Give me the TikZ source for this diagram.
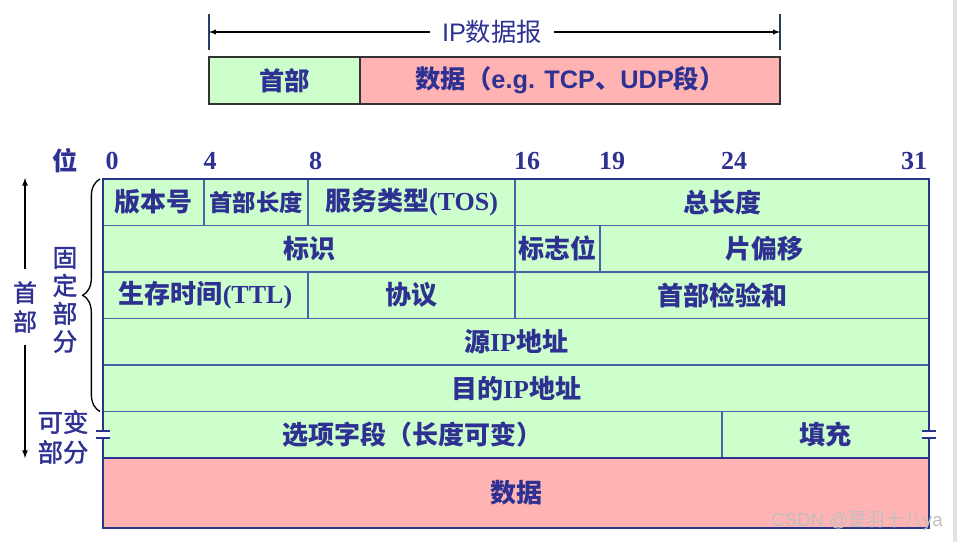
\documentclass[tikz,border=0pt]{standalone}
\usepackage{fontspec}
\setmainfont{Liberation Serif}
\newfontfamily\cjk{Noto Sans CJK SC}
\newfontfamily\cjkmid[FakeBold=1.6]{Noto Sans CJK SC}
\newfontfamily\arial{Liberation Sans}
\usepackage{tikz}
\usetikzlibrary{arrows, positioning, decorations.pathreplacing}

\definecolor{ink}{RGB}{46,49,146}
\definecolor{hdrgreen}{RGB}{204,255,204}
\definecolor{datapink}{RGB}{255,179,179}
\definecolor{gridblue}{RGB}{72,98,165}
\definecolor{edgeblue}{RGB}{42,52,140}

\newdimen\px \px=0.75pt
\newcommand{\zh}[1]{{\cjk #1}}

\begin{document}
\begin{tikzpicture}[x=\px, y=-\px,
        fld/.style={rectangle, draw=gridblue, line width=1.1pt, fill=hdrgreen, text=ink, inner sep=0pt, outer sep=0pt, minimum height=46.5\px, font=\bfseries\fontsize{19.5}{22}\selectfont},
        datafld/.style={fld, fill=datapink, minimum height=70\px},
        topbox/.style={rectangle, draw=black!80, line width=1pt, text=ink, inner sep=0pt, outer sep=0pt, minimum height=47\px, font=\bfseries\fontsize{19}{22}\selectfont},
        bitno/.style={anchor=base, text=ink, inner sep=0pt, font=\bfseries\fontsize{19.5}{22}\selectfont},
        side/.style={text=ink, align=center, inner sep=0pt},
        curly/.style={decorate, decoration={brace, amplitude=13pt}, black, line width=1pt},
        brk/.style={edgeblue, line width=1.5pt}]
        \useasboundingbox (0,0) rectangle (957,542);
        \fill[gray!22] (953,0) rectangle (957,542);

        % datagram overview
        \node[topbox, fill=hdrgreen, minimum width=151\px, anchor=north west] (iphdr) at (209,57) {\zh{首部}};
        \node[topbox, fill=datapink, minimum width=420\px, right=0pt of iphdr] (ipdata) {\zh{数据（}{\arial e.g. TCP}\zh{、}{\arial UDP}\zh{段）}};
        \draw[gridblue!60!black, line width=0.8pt] ([shift={(0,-7)}]iphdr.north west) -- ++(0,-36);
        \draw[gridblue!60!black, line width=0.8pt] ([shift={(0,-7)}]ipdata.north east) -- ++(0,-36);
        \node[text=ink, fill=white, inner xsep=9pt, inner ysep=2pt, font=\fontsize{19}{22}\selectfont] (iplbl) at (492,32) {{\arial IP}\zh{数据报}};
        \coordinate (ipl) at (209,32);
        \coordinate (ipr) at (780,32);
        \path[-latex] (iplbl) edge [line width=0.8pt] (ipl);
        \path[-latex] (iplbl) edge [line width=0.8pt] (ipr);

        % bit positions
        \node[side, font=\cjk\bfseries\fontsize{19}{22}\selectfont] (wei) at (65,161) {位};
        \foreach \b/\x in {0/112, 4/210, 8/315.5, 16/527, 19/612, 24/734, 31/914}
            \node[bitno] (bit\b) at (\x,169) {\b};

        % header fields
        \node[fld, minimum width=101\px, anchor=north west] (ver) at (103,179) {\zh{版本号}};
        \node[fld, minimum width=104\px, right=0pt of ver, font=\bfseries\fontsize{17.5}{20}\selectfont] (ihl) {\zh{首部长度}};
        \node[fld, minimum width=207\px, right=0pt of ihl] (tos) {\zh{服务类型}(TOS)};
        \node[fld, minimum width=414\px, right=0pt of tos] (totlen) {\zh{总长度}};

        \node[fld, minimum width=412\px, below=0pt of ver.south west, anchor=north west] (ident) {\zh{标识}};
        \node[fld, minimum width=85\px, right=0pt of ident] (flags) {\zh{标志位}};
        \node[fld, minimum width=329\px, right=0pt of flags] (fragoff) {\zh{片偏移}};

        \node[fld, minimum width=205\px, below=0pt of ident.south west, anchor=north west] (ttl) {\zh{生存时间}(TTL)};
        \node[fld, minimum width=207\px, right=0pt of ttl] (proto) {\zh{协议}};
        \node[fld, minimum width=414\px, right=0pt of proto] (chksum) {\zh{首部检验和}};

        \node[fld, minimum width=826\px, below=0pt of ttl.south west, anchor=north west] (srcip) {\zh{源}IP\zh{地址}};
        \node[fld, minimum width=826\px, below=0pt of srcip] (dstip) {\zh{目的}IP\zh{地址}};

        \node[fld, minimum width=619\px, below=0pt of dstip.south west, anchor=north west] (opts) {\zh{选项字段（长度可变）}};
        \node[fld, minimum width=207\px, right=0pt of opts] (padding) {\zh{填充}};

        \node[datafld, minimum width=826\px, below=0pt of opts.south west, anchor=north west] (payload) {\zh{数据}};

        \draw[edgeblue, line width=1.6pt] (ver.north west) rectangle (padding.south east);
        \draw[edgeblue, line width=1.6pt] (payload.north west) rectangle (payload.south east);

        % breaks in the variable part
        \foreach \p in {opts.west, padding.east} {
            \fill[white] ([shift={(-7,-2.5)}]\p) rectangle ([shift={(7,2.5)}]\p);
            \draw[brk] ([shift={(-7,-3.5)}]\p) -- ++(14,0);
            \draw[brk] ([shift={(-7,3.5)}]\p) -- ++(14,0);
        }

        % left side labels
        \node[side, inner sep=9pt, font=\cjkmid\fontsize{18}{21.75}\selectfont] (hdrlbl) at (25,307) {首\\部};
        \coordinate (hdrtop) at (25,178);
        \coordinate (hdrbot) at (25,458);
        \path[-latex] (hdrlbl) edge [line width=1pt] (hdrtop);
        \path[-latex] (hdrlbl) edge [line width=1pt] (hdrbot);

        \draw[curly] ([shift={(-3,0)}]dstip.south west) -- ([shift={(-3,0)}]ver.north west);
        \node[side, font=\cjkmid\fontsize{18.5}{21}\selectfont] (fixedlbl) at (65,300) {固\\定\\部\\分};
        \node[side, font=\cjkmid\fontsize{19}{22.5}\selectfont] (varlbl) at (63,437) {可变\\部分};

        \node[text=gray!50, inner sep=0pt, font=\fontsize{14}{16}\selectfont] (wmark) at (857,521) {{\arial CSDN @}\zh{是羽十八}{\arial ya}};
\end{tikzpicture}
\end{document}
